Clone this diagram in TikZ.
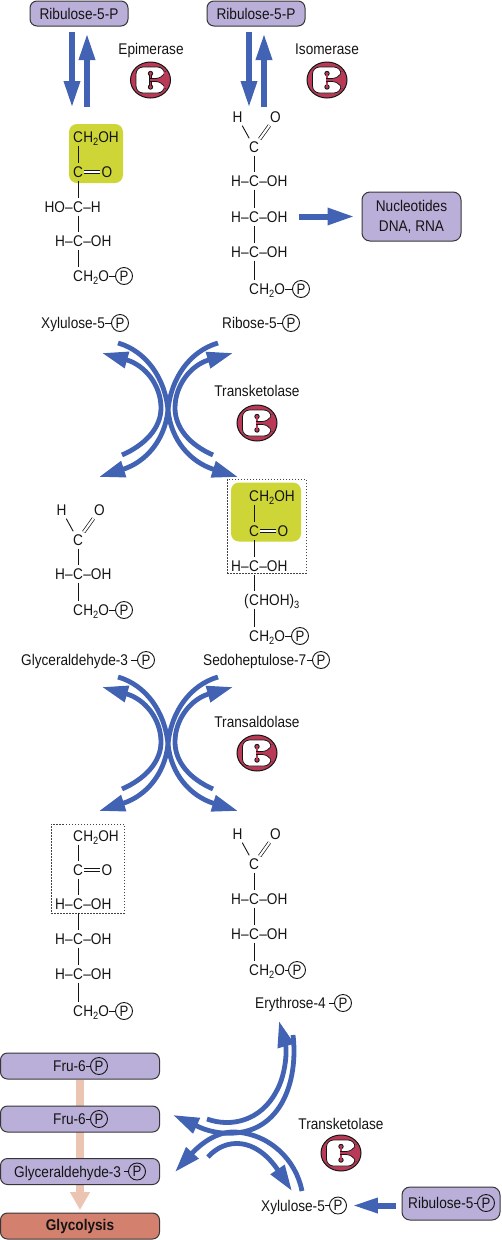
\documentclass[tikz,border=0pt]{standalone}
\usepackage{fontspec}
\setmainfont[FakeStretch=0.88]{Liberation Sans}
\usetikzlibrary{arrows.meta,shapes.geometric,backgrounds}
\definecolor{ink}{HTML}{141414}
\definecolor{flowblue}{HTML}{4262B4}
\definecolor{boxpurple}{HTML}{BAAFD8}
\definecolor{hilite}{HTML}{CDD636}
\definecolor{enzred}{HTML}{B83A56}
\definecolor{pale}{HTML}{EBC4B2}
\definecolor{glyco}{HTML}{D4806F}
\newcommand{\chemsub}[1]{\raisebox{-2.6pt}{\fontsize{10.5}{10.5}\selectfont #1}}
\newcommand{\bodyfont}{\fontsize{15.5}{18}\selectfont}
\tikzset{
  txt/.style={inner xsep=0pt,inner ysep=3pt,font=\bodyfont,text=ink,text height=11pt,text depth=0pt},
  pc/.style={circle,draw=ink,line width=0.9pt,minimum size=17pt,inner sep=0pt,font=\fontsize{15}{15}\selectfont,text=ink},
  bond/.style={draw=ink,line width=0.9pt},
  dbond/.style={draw=ink,line width=0.7pt,double,double distance=2.2pt,shorten <=1pt,shorten >=1pt},
  box/.style={draw=ink!85,line width=1pt,fill=boxpurple,rounded corners=7pt,inner sep=0pt},
  hibox/.style={fill=hilite,rounded corners=8pt,inner sep=0pt},
  dotbox/.style={draw=ink!80,line width=0.9pt,dash pattern=on 1.5pt off 1.5pt,inner sep=0pt},
  flow/.style={draw=flowblue,line width=6pt,-{Triangle[length=27pt,width=15pt]}},
  bendflow/.style={draw=flowblue,line width=4.8pt},
  bendhead/.style={bendflow,-{Triangle[length=26pt,width=16pt]}},
  enzo/.style={ellipse,draw=ink,line width=1pt,fill=enzred,minimum width=40pt,minimum height=36pt,inner sep=0pt},
}
% C with left and right parts
\newcommand{\crow}[5]{% name,x,y,left,right
  \node[txt] (#1) at (#2,#3) {C};
  \node[txt,anchor=east] (#1L) at (#1.west) {#4};
  \node[txt,anchor=west] (#1R) at (#1.east) {#5};}
\newcommand{\hcoh}[3]{\crow{#1}{#2}{#3}{H–}{–OH}}
\newcommand{\choh}[3]{\crow{#1}{#2}{#3}{}{H\chemsub{2}OH}}
\newcommand{\chop}[4]{% name,x,y,circle x
  \crow{#1}{#2}{#3}{}{H\chemsub{2}O}
  \node[pc] (#1P) at (#4,#3) {P};
  \draw[bond] (#1R.east) -- (#1P);}
\newcommand{\named}[5]{% name,x,y,text,circle x
  \node[txt,anchor=west] (#1) at (#2,#3) {#4};
  \node[pc] (#1P) at (#5,#3) {P};
  \draw[bond] (#1.east) -- (#1P);}
\newcommand{\keto}[4]{% name,x,y,O x
  \node[txt] (#1) at (#2,#3) {C};
  \node[txt] (#1O) at (#4,#3) {O};
  \draw[dbond] (#1) -- (#1O);}
\newcommand{\aldo}[3]{% name,x,y of C
  \node[txt] (#1) at (#2,#3) {C};
  \node[txt] (#1H) at ({#2-16.5},{#3-30}) {H};
  \node[txt] (#1O) at ({#2+21.5},{#3-30}) {O};
  \draw[bond] (#1H) -- (#1);
  \draw[dbond] (#1O) -- (#1);}
\newcommand{\enz}[3]{%
  \node[enzo] (#1) at (#2,#3) {};
  \begin{scope}[shift={(#2,#3)}]
    \draw[ink,fill=white,line width=0.8pt,rounded corners=7pt] (-14.5,-13) rectangle (14,13);
    \draw[ink,line width=2.8pt,line cap=round] (0,-6) -- (0,6.5);
    \fill[ink] (0,-6.5) circle (2.7pt) (0,7) circle (2.7pt);
    \draw[ink,fill=enzred,line width=0.7pt] (15,-8) .. controls (12,-4) and (10,-1.8) .. (5,-1.5) -- (5,1.5) .. controls (10,1.8) and (12,4) .. (15,8) -- cycle;
    \draw[enzred,line width=1.4pt] (0,-6) -- (0,6.5);
    \fill[enzred] (0,-6.5) circle (1.9pt) (0,7) circle (1.9pt);
    \fill[ink] (-0.6,-2) rectangle (6,2);
    \fill[enzred] (-0.7,-1.3) rectangle (7,1.3);
    \fill[enzred] (13.5,-8) rectangle (16,8);
  \end{scope}}
\newcommand{\xpair}[2]{%
  \begin{scope}[yshift=-#2pt]
    \coordinate (#1a) at (118,343); \coordinate (#1ah) at (238,477);
    \coordinate (#1b) at (218,343); \coordinate (#1bh) at (99,477);
    \coordinate (#1c) at (122,455); \coordinate (#1ch) at (102,353);
    \coordinate (#1d) at (213,455); \coordinate (#1dh) at (233,353);
    \draw[bendhead] (#1a) .. controls (146,351) and (165,378) .. (168,410) .. controls (171,440) and (190,462) .. (#1ah);
    \draw[bendhead] (#1b) .. controls (190,351) and (171,378) .. (168,410) .. controls (165,440) and (146,462) .. (#1bh);
    \draw[bendhead] (#1c) .. controls (145,445) and (161,428) .. (161,408) .. controls (161,385) and (145,365) .. (#1ch);
    \draw[bendhead] (#1d) .. controls (190,445) and (175,428) .. (175,408) .. controls (175,385) and (191,365) .. (#1dh);
  \end{scope}}
\begin{document}
\begin{tikzpicture}[x=1pt,y=-1pt]
\useasboundingbox (0,0) rectangle (501,1240);
% top boxes and arrows
\node[box,minimum width=98pt,minimum height=25pt,font=\bodyfont,text=ink] (rl) at (79,13.5) {Ribulose-5-P};
\node[box,minimum width=98pt,minimum height=25pt,font=\bodyfont,text=ink] (rr) at (256,13.5) {Ribulose-5-P};
\coordinate (a1) at (72,32); \coordinate (a2) at (72,108);
\coordinate (a3) at (87,107); \coordinate (a4) at (87,33);
\coordinate (a5) at (249,32); \coordinate (a6) at (249,108);
\coordinate (a7) at (264,107); \coordinate (a8) at (264,33);
\draw[flow] (a1) -- (a2); \draw[flow] (a3) -- (a4);
\draw[flow] (a5) -- (a6); \draw[flow] (a7) -- (a8);
\node[txt] (ep) at (151,49) {Epimerase};
\enz{e1}{150.5}{80}
\node[txt] (is) at (327,49) {Isomerase};
\enz{e2}{327}{80}
% xylulose
\node[hibox,minimum width=54pt,minimum height=59pt] (y1) at (96,153.5) {};
\choh{x1}{78}{137}
\keto{x2}{78}{172}{107}
\crow{x3}{78}{207}{HO–}{–H}
\hcoh{x4}{78}{241}
\chop{x5}{78}{276}{124}
\draw[bond] (x1)--(x2); \draw[bond] (x2)--(x3); \draw[bond] (x3)--(x4); \draw[bond] (x4)--(x5);
\named{xl}{41}{323}{Xylulose-5}{120}
% ribose
\aldo{r1}{254}{147}
\hcoh{r2}{254}{181}
\hcoh{r3}{254}{217}
\hcoh{r4}{254}{252}
\chop{r5}{254}{289}{301}
\draw[bond] (r1)--(r2); \draw[bond] (r2)--(r3); \draw[bond] (r3)--(r4); \draw[bond] (r4)--(r5);
\named{rl5}{222}{323}{Ribose-5}{291}
\node[box,minimum width=99pt,minimum height=49pt,rounded corners=8pt,align=center,font=\fontsize{15.5}{20}\selectfont,text=ink] (nu) at (411.5,216.5) {Nucleotides\\DNA, RNA};
\coordinate (n1) at (299,216.5);
\draw[flow,-{Triangle[length=27pt,width=16pt]}] (n1) -- (nu.west) [shorten >=7pt];
% first exchange
\xpair{p}{0}
\node[txt] (tk1) at (257,391) {Transketolase};
\enz{e3}{257}{423}
% glyceraldehyde-3-P
\aldo{g1}{78}{540}
\hcoh{g2}{78}{574}
\chop{g3}{78}{610}{124}
\draw[bond] (g1)--(g2); \draw[bond] (g2)--(g3);
\named{gl}{21}{660}{Glyceraldehyde-3\kern3pt}{146}
% sedoheptulose
\node[dotbox,minimum width=79pt,minimum height=94pt] (d1) at (266.5,526) {};
\node[hibox,minimum width=70pt,minimum height=59pt] (y2) at (266,512) {};
\choh{s1}{254}{496}
\keto{s2}{254}{531}{283}
\hcoh{s3}{254}{566}
\crow{s4}{254}{600}{(}{HOH)\chemsub{3}}
\chop{s5}{254}{636}{300}
\draw[bond] (s1)--(s2); \draw[bond] (s2)--(s3); \draw[bond] (s3)--(s4); \draw[bond] (s4)--(s5);
\named{sl}{203}{660}{Sedoheptulose-7}{321}
% second exchange
\xpair{q}{334}
\node[txt] (ta) at (257,722) {Transaldolase};
\enz{e4}{257}{753}
% fructose
\node[dotbox,minimum width=73pt,minimum height=89pt] (d2) at (87.5,868.5) {};
\choh{f1}{78}{836}
\keto{f2}{78}{870}{107}
\hcoh{f3}{78}{904}
\hcoh{f4}{78}{939}
\hcoh{f5}{78}{974}
\chop{f6}{78}{1011}{124}
\draw[bond] (f1)--(f2); \draw[bond] (f2)--(f3); \draw[bond] (f3)--(f4); \draw[bond] (f4)--(f5); \draw[bond] (f5)--(f6);
% erythrose
\aldo{h1}{254}{864}
\hcoh{h2}{254}{899}
\hcoh{h3}{254}{934}
\chop{h4}{254}{970}{297}
\draw[bond] (h1)--(h2); \draw[bond] (h2)--(h3); \draw[bond] (h3)--(h4);
\named{hl}{255}{1003}{Erythrose-4\kern3pt}{343}
% bottom boxes
\node[box,minimum width=159pt,minimum height=26pt] (b1) at (80,1066) {};
\node[box,minimum width=159pt,minimum height=26pt] (b2) at (80,1119) {};
\node[box,minimum width=159pt,minimum height=26pt] (b3) at (80,1171.5) {};
\node[box,minimum width=159pt,minimum height=26pt,fill=glyco,font=\bodyfont\bfseries,text=ink] (b4) at (80,1226) {Glycolysis};
\coordinate (ptip) at (80,1210);
\begin{scope}[on background layer]
  \draw[draw=pale,line width=8.5pt,-{Triangle[length=18pt,width=19pt]}] (b1.south) -- (ptip);
\end{scope}
\named{t1}{53}{1066}{Fru-6}{99}
\named{t2}{53}{1119}{Fru-6}{99}
\named{t3}{14}{1171.5}{Glyceraldehyde-3\kern3pt}{137}
% last exchange
\coordinate (c1) at (293,1035); \coordinate (c1h) at (173,1115);
\coordinate (c2) at (207,1119); \coordinate (c2h) at (279,1021);
\coordinate (c3) at (302,1191); \coordinate (c3h) at (175,1172);
\coordinate (c4) at (208,1157); \coordinate (c4h) at (292,1191);
\draw[bendhead] (c1) .. controls (298,1075) and (285,1129) .. (235,1133) .. controls (212,1135) and (195,1125) .. (c1h);
\draw[bendhead] (c2) .. controls (232,1128) and (261,1120) .. (276,1092) .. controls (286,1075) and (287,1050) .. (c2h);
\draw[bendhead] (c3) .. controls (296,1160) and (270,1134) .. (235,1132) .. controls (213,1131) and (195,1150) .. (c3h);
\draw[bendhead] (c4) .. controls (225,1138) and (255,1136) .. (c4h);
\node[txt] (tk2) at (341,1124) {Transketolase};
\enz{e5}{341}{1153}
\named{xb}{261}{1205.5}{Xylulose-5}{338}
\node[box,minimum width=98pt,minimum height=33pt,rounded corners=8pt] (rb) at (451,1203.5) {};
\named{rbt}{408}{1203}{Ribulose-5}{486}
\draw[flow,-{Triangle[length=26pt,width=14pt]}] (rb.west |- xbP.east) [shorten <=6pt,shorten >=5pt] -- (xbP.east);
\end{tikzpicture}
\end{document}
